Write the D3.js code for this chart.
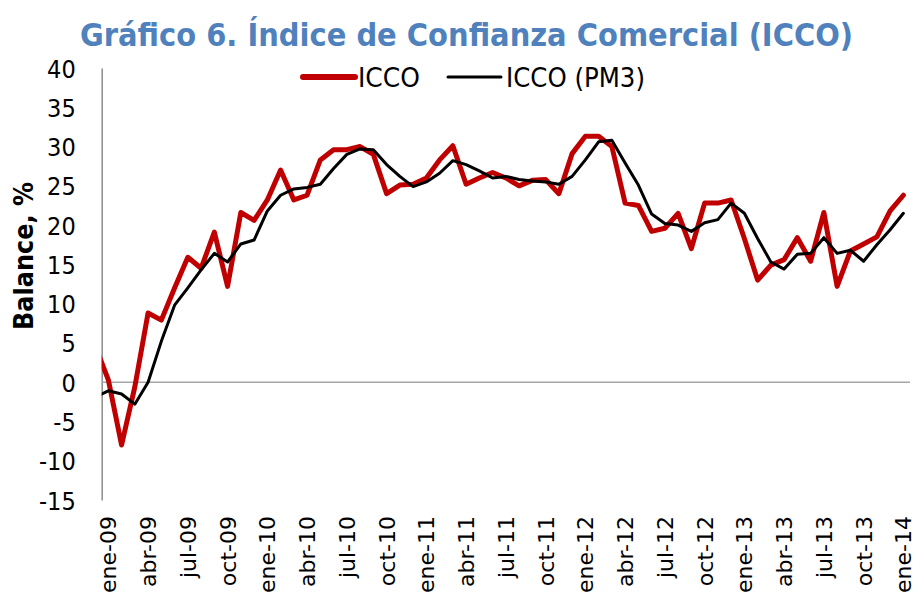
<!DOCTYPE html>
<html>
<head>
<meta charset="utf-8">
<script src="https://cdn.jsdelivr.net/npm/d3@7"></script>
<style>
  html, body { margin: 0; padding: 0; background: #fff; }
  svg { display: block; }
  .cond { font-family: "DejaVu Sans Condensed", "DejaVu Sans", sans-serif; font-stretch: condensed; }
</style>
</head>
<body>
<svg id="chart" width="917" height="601"></svg>
<script>
// ---------- data ----------
const titleText = "Gráfico 6. Índice de Confianza Comercial (ICCO)";
const yAxisTitle = "Balance, %";
const seriesNames = ["ICCO", "ICCO (PM3)"];

// first entry (dic-08) lies before the plot area and is clipped at the axis
const months = [
  "dic-08",
  "ene-09","feb-09","mar-09","abr-09","may-09","jun-09","jul-09","ago-09","sep-09","oct-09","nov-09","dic-09",
  "ene-10","feb-10","mar-10","abr-10","may-10","jun-10","jul-10","ago-10","sep-10","oct-10","nov-10","dic-10",
  "ene-11","feb-11","mar-11","abr-11","may-11","jun-11","jul-11","ago-11","sep-11","oct-11","nov-11","dic-11",
  "ene-12","feb-12","mar-12","abr-12","may-12","jun-12","jul-12","ago-12","sep-12","oct-12","nov-12","dic-12",
  "ene-13","feb-13","mar-13","abr-13","may-13","jun-13","jul-13","ago-13","sep-13","oct-13","nov-13","dic-13",
  "ene-14"
];

const icco = [
  4.7,
  0.3, -8.0, -0.6, 8.8, 7.9, 12.0, 15.9, 14.5, 19.1, 12.2, 21.6, 20.6,
  23.2, 27.0, 23.2, 23.8, 28.3, 29.6, 29.6, 30.0, 29.0, 24.0, 25.1, 25.2,
  26.0, 28.3, 30.1, 25.2, 26.0, 26.7, 26.0, 25.0, 25.7, 25.8, 24.0, 29.1,
  31.3, 31.3, 30.0, 22.8, 22.5, 19.2, 19.6, 21.5, 17.0, 22.8, 22.8, 23.2,
  18.3, 13.0, 14.9, 15.6, 18.4, 15.4, 21.6, 12.2, 16.7, 17.6, 18.5, 21.8,
  23.8
];

const iccoPM3 = [
  -1.9,
  -1.1, -1.5, -2.8, 0.0, 5.2, 9.8, 12.0, 14.3, 16.4, 15.3, 17.6, 18.1,
  21.8, 23.8, 24.6, 24.8, 25.2, 27.2, 29.0, 29.7, 29.6, 27.7, 26.2, 24.9,
  25.5, 26.6, 28.2, 27.7, 26.9, 26.0, 26.2, 25.8, 25.6, 25.5, 25.2, 26.2,
  28.3, 30.6, 30.8, 27.9, 25.1, 21.4, 20.2, 20.0, 19.2, 20.3, 20.7, 22.8,
  21.5, 18.3, 15.3, 14.4, 16.3, 16.4, 18.4, 16.4, 16.8, 15.4, 17.5, 19.4,
  21.5
];

const xTickLabels = [
  "ene-09","abr-09","jul-09","oct-09","ene-10","abr-10","jul-10","oct-10",
  "ene-11","abr-11","jul-11","oct-11","ene-12","abr-12","jul-12","oct-12",
  "ene-13","abr-13","jul-13","oct-13","ene-14"
];
const yTickValues = [-15, -10, -5, 0, 5, 10, 15, 20, 25, 30, 35, 40];

// ---------- layout ----------
const plot = { left: 101.7, right: 910, top: 68, bottom: 500 };
const colors = { icco: "#c00000", pm3: "#000000", title: "#4f81bd", axis: "#8c8c8c" };

const svg = d3.select("#chart");

// index 0 = ene-09 ; categories centred in 61 bands
const firstIdx = months.indexOf("ene-09");
const nCats = months.length - firstIdx;
const x = d3.scaleLinear().domain([-0.5, nCats - 0.5]).range([plot.left, plot.right]);
const y = d3.scaleLinear().domain([-15, 40]).range([plot.bottom, plot.top]);

function fitWidth(sel, target) {
  const w = sel.node().getComputedTextLength();
  if (Math.abs(w - target) > 1) {
    sel.attr("textLength", target).attr("lengthAdjust", "spacingAndGlyphs");
  }
}

// title
const title = svg.append("text")
  .attr("class", "cond")
  .attr("x", 466.5).attr("y", 46)
  .attr("text-anchor", "middle")
  .attr("font-size", 32).attr("font-weight", "bold")
  .attr("fill", colors.title)
  .text(titleText);
fitWidth(title, 773);

// y axis
const yAxis = d3.axisLeft(y)
  .tickValues(yTickValues)
  .tickFormat(d => String(d))
  .tickSize(0).tickPadding(26).tickSizeOuter(0);
const gy = svg.append("g").attr("transform", `translate(${plot.left},0)`).call(yAxis);
gy.select(".domain").attr("stroke", colors.axis).attr("stroke-width", 1.5);
gy.selectAll(".tick text")
  .attr("class", "cond")
  .attr("font-size", 25)
  .attr("fill", "#000")
  .attr("dy", "0.36em");

// zero line
svg.append("line")
  .attr("x1", plot.left).attr("x2", plot.right)
  .attr("y1", y(0)).attr("y2", y(0))
  .attr("stroke", "#a6a6a6").attr("stroke-width", 1.5);

// y axis title
const yt = svg.append("text")
  .attr("class", "cond")
  .attr("transform", `translate(33,256) rotate(-90)`)
  .attr("text-anchor", "middle")
  .attr("font-size", 26).attr("font-weight", "bold")
  .attr("fill", "#000")
  .text(yAxisTitle);
fitWidth(yt, 148);

// x labels
svg.append("g").selectAll("text")
  .data(xTickLabels)
  .join("text")
  .attr("transform", d => `translate(${x(months.indexOf(d) - firstIdx) + 8},516) rotate(-90)`)
  .attr("text-anchor", "end")
  .attr("font-family", "'DejaVu Sans', sans-serif")
  .attr("font-size", 22)
  .attr("fill", "#000")
  .text(d => d);

// clip
svg.append("clipPath").attr("id", "plotclip")
  .append("rect")
  .attr("x", plot.left).attr("y", 0)
  .attr("width", plot.right - plot.left + 10).attr("height", 601);

const line = d3.line()
  .x((d, i) => x(i - firstIdx))
  .y(d => y(d));

const gl = svg.append("g").attr("clip-path", "url(#plotclip)");
gl.append("path")
  .datum(icco)
  .attr("d", line)
  .attr("fill", "none")
  .attr("stroke", colors.icco)
  .attr("stroke-width", 5)
  .attr("stroke-linejoin", "round")
  .attr("stroke-linecap", "round");
gl.append("path")
  .datum(iccoPM3)
  .attr("d", line)
  .attr("fill", "none")
  .attr("stroke", colors.pm3)
  .attr("stroke-width", 3)
  .attr("stroke-linejoin", "round")
  .attr("stroke-linecap", "round");

// legend
const legend = [
  { name: seriesNames[0], color: colors.icco, w: 6, x1: 303, x2: 355, tx: 358, tw: 62 },
  { name: seriesNames[1], color: colors.pm3, w: 3, x1: 448, x2: 501, tx: 506, tw: 139 }
];
const lg = svg.append("g");
legend.forEach(l => {
  lg.append("line")
    .attr("x1", l.x1).attr("x2", l.x2).attr("y1", 77).attr("y2", 77)
    .attr("stroke", l.color).attr("stroke-width", l.w).attr("stroke-linecap", "round");
  const t = lg.append("text")
    .attr("class", "cond")
    .attr("x", l.tx).attr("y", 86.5)
    .attr("font-size", 26)
    .attr("fill", "#000")
    .text(l.name);
  fitWidth(t, l.tw);
});
</script>
</body>
</html>
